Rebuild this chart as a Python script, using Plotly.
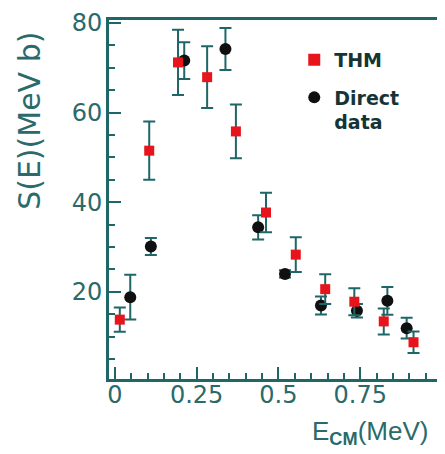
import plotly.graph_objects as go

# THM data (red squares)
thm_x = [0.015, 0.105, 0.193, 0.282, 0.370, 0.462, 0.553, 0.643, 0.732, 0.822, 0.913]
thm_y = [13.8, 51.5, 71.2, 67.9, 55.8, 37.7, 28.3, 20.6, 17.8, 13.4, 8.75]
thm_err = [2.7, 6.5, 7.3, 6.9, 6.0, 4.4, 3.9, 3.3, 3.0, 2.9, 2.4]

# Direct data (black circles)
dir_x = [0.047, 0.110, 0.212, 0.338, 0.438, 0.520, 0.630, 0.740, 0.833, 0.892]
dir_y = [18.8, 30.1, 71.6, 74.2, 34.4, 24.0, 16.95, 15.8, 18.0, 11.9]
dir_err = [5.0, 1.9, 4.1, 4.7, 2.7, 0.8, 2.0, 1.5, 3.1, 2.3]

x_ticks = [0, 0.25, 0.5, 0.75, 1]
x_ticklabels = ["0", "0.25", "0.5", "0.75", "1"]
y_ticks = [20, 40, 60, 80]

TEAL = "#1f6666"
TEXT = "#2a6a6a"
FONT = "DejaVu Sans"

fig = go.Figure()
fig.add_trace(go.Scatter(
    x=dir_x, y=dir_y, mode="markers", name="Direct<br>data", legendgroup="dir", legendrank=2,
    marker=dict(symbol="circle", size=12, color="#101010"),
    error_y=dict(type="data", array=dir_err, color=TEAL, thickness=2, width=6),
))
fig.add_trace(go.Scatter(
    x=thm_x, y=thm_y, mode="markers", name="THM", legendgroup="thm", legendrank=1,
    marker=dict(symbol="square", size=10, color="#e8141c"),
    error_y=dict(type="data", array=thm_err, color=TEAL, thickness=2, width=6),
))

fig.update_layout(
    width=437, height=446,
    margin=dict(l=101, r=1, t=8, b=75),
    plot_bgcolor="white", paper_bgcolor="white",
    font=dict(family=FONT, color=TEXT, size=24),
    showlegend=True,
    legend=dict(
        x=0.558, y=0.942, xanchor="left", yanchor="top",
        traceorder="grouped", valign="top", tracegroupgap=10,
        font=dict(family="DejaVu Sans", size=19, color="#153535", weight="bold"),
        bgcolor="rgba(0,0,0,0)", itemsizing="constant",
    ),
    xaxis=dict(
        range=[-0.018, 0.997], showgrid=False, zeroline=False,
        showline=True, linecolor=TEAL, linewidth=3, mirror=True,
        ticks="inside", ticklen=12, tickwidth=1.5, tickcolor=TEAL,
        tickvals=x_ticks, ticktext=x_ticklabels, ticklabelstandoff=-8,
        tickfont=dict(family=FONT, size=24, color=TEXT),
        minor=dict(dtick=0.05, ticks="inside", ticklen=6, tickwidth=1.5, tickcolor=TEAL, showgrid=False),
    ),
    yaxis=dict(
        range=[0.55, 80.66], showgrid=False, zeroline=False,
        showline=True, linecolor=TEAL, linewidth=3, mirror=True,
        ticks="inside", ticklen=12, tickwidth=1.5, tickcolor=TEAL,
        tickvals=y_ticks, ticklabelstandoff=-1, ticklabeloverflow="allow",
        tickfont=dict(family=FONT, size=24, color=TEXT),
        minor=dict(dtick=5, ticks="inside", ticklen=6, tickwidth=1.5, tickcolor=TEAL, showgrid=False),
    ),
    annotations=[
        dict(text="S(E)(MeV b)", textangle=-90, xref="paper", yref="paper",
             x=-0.24, y=0.72, xanchor="center", yanchor="middle", showarrow=False,
             font=dict(family=FONT, size=30, color=TEXT)),
        dict(text="E<sub><b>CM</b></sub>(MeV)", xref="paper", yref="paper",
             x=0.967, y=-0.148, xanchor="right", yanchor="middle", showarrow=False,
             font=dict(family="Liberation Sans", size=26, color=TEXT)),
    ],
)

fig.write_html("out.html")
